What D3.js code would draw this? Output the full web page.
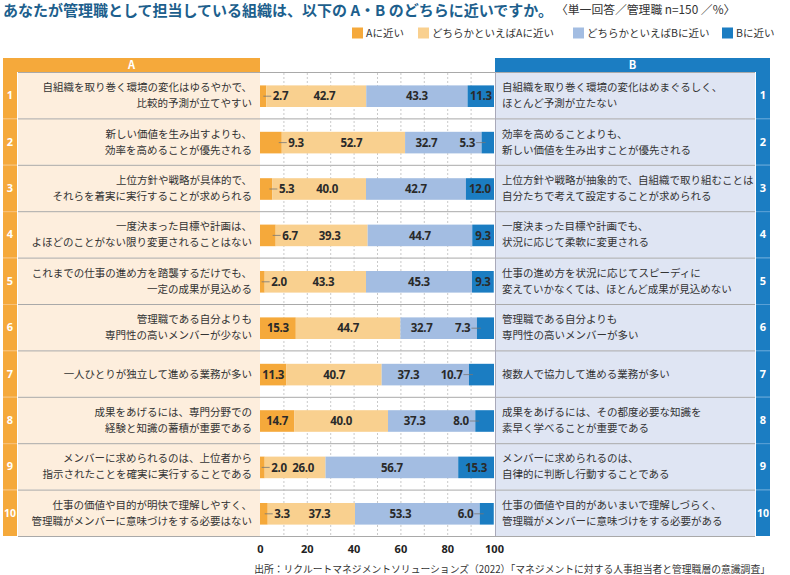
<!DOCTYPE html>
<html><head><meta charset="utf-8">
<script src="https://cdn.jsdelivr.net/npm/d3@7"></script>
<style>
html,body{margin:0;padding:0;background:#fff;}
svg{display:block;font-family:"Noto Sans CJK JP","Noto Sans",sans-serif;}
</style></head><body>
<svg id="chart" width="790" height="575"></svg>
<script>
const titleText = "あなたが管理職として担当している組織は、以下の A・B のどちらに近いですか。";
const subtitleText = "〈単一回答／管理職 n=150 ／%〉";
const sourceText = "出所：リクルートマネジメントソリューションズ（2022）「マネジメントに対する人事担当者と管理職層の意識調査」";
const categories = ["1","2","3","4","5","6","7","8","9","10"];
const textA = [
  ["自組織を取り巻く環境の変化はゆるやかで、","比較的予測が立てやすい"],
  ["新しい価値を生み出すよりも、","効率を高めることが優先される"],
  ["上位方針や戦略が具体的で、","それらを着実に実行することが求められる"],
  ["一度決まった目標や計画は、","よほどのことがない限り変更されることはない"],
  ["これまでの仕事の進め方を踏襲するだけでも、","一定の成果が見込める"],
  ["管理職である自分よりも","専門性の高いメンバーが少ない"],
  ["一人ひとりが独立して進める業務が多い"],
  ["成果をあげるには、専門分野での","経験と知識の蓄積が重要である"],
  ["メンバーに求められるのは、上位者から","指示されたことを確実に実行することである"],
  ["仕事の価値や目的が明快で理解しやすく、","管理職がメンバーに意味づけをする必要はない"]
];
const textB = [
  ["自組織を取り巻く環境の変化はめまぐるしく、","ほとんど予測が立たない"],
  ["効率を高めることよりも、","新しい価値を生み出すことが優先される"],
  ["上位方針や戦略が抽象的で、自組織で取り組むことは","自分たちで考えて設定することが求められる"],
  ["一度決まった目標や計画でも、","状況に応じて柔軟に変更される"],
  ["仕事の進め方を状況に応じてスピーディに","変えていかなくては、ほとんど成果が見込めない"],
  ["管理職である自分よりも","専門性の高いメンバーが多い"],
  ["複数人で協力して進める業務が多い"],
  ["成果をあげるには、その都度必要な知識を","素早く学べることが重要である"],
  ["メンバーに求められるのは、","自律的に判断し行動することである"],
  ["仕事の価値や目的があいまいで理解しづらく、","管理職がメンバーに意味づけをする必要がある"]
];
const seriesNames = ["Aに近い","どちらかといえばAに近い","どちらかといえばBに近い","Bに近い"];
const aNear     = [2.7, 9.3, 5.3, 6.7, 2.0, 15.3, 11.3, 14.7, 2.0, 3.3];
const aSomewhat = [42.7, 52.7, 40.0, 39.3, 43.3, 44.7, 40.7, 40.0, 26.0, 37.3];
const bSomewhat = [43.3, 32.7, 42.7, 44.7, 45.3, 32.7, 37.3, 37.3, 56.7, 53.3];
const bNear     = [11.3, 5.3, 12.0, 9.3, 9.3, 7.3, 10.7, 8.0, 15.3, 6.0];
const aLabelOutside = [true, true, true, true, true, false, false, false, true, true];
const bLabelOutside = [false, true, false, false, false, true, true, true, false, true];
const tickValues = [0, 20, 40, 60, 80, 100];
const gridValues = [10, 20, 30, 40, 50, 60, 70, 80, 90];

const colors = ["#f5a93b", "#f9d08f", "#a3bde2", "#1b7dc2"];
const keys = ["aNear","aSomewhat","bSomewhat","bNear"];
const table = categories.map((c, i) => ({cat: c, aNear: aNear[i], aSomewhat: aSomewhat[i], bSomewhat: bSomewhat[i], bNear: bNear[i], i}));

const svg = d3.select("#chart");
const x = d3.scaleLinear().domain([0, 100]).range([260, 494]);
const y = d3.scaleBand().domain(categories).range([72, 536]).padding(0);
const barH = 21.6;
const barOff = (y.bandwidth() - barH) / 2 + 1;
const valFont = '"Noto Sans","Noto Sans CJK JP",sans-serif';

// Title
svg.append("text").attr("x", 3).attr("y", 15.5).attr("font-size", 15).attr("font-weight", 700)
  .attr("fill", "#1d5f8d").text(titleText);
svg.append("text").attr("x", 556).attr("y", 14).attr("font-size", 11.8).attr("fill", "#333").text(subtitleText);

// Legend
const legX = [352, 418, 573, 722];
seriesNames.forEach((n, i) => {
  svg.append("rect").attr("x", legX[i]).attr("y", 27.5).attr("width", 11).attr("height", 11).attr("fill", colors[i]);
  svg.append("text").attr("x", legX[i] + 14).attr("y", 37).attr("font-size", 10.5).attr("fill", "#333").text(n);
});

// Headers
svg.append("rect").attr("x", 3).attr("y", 58).attr("width", 257).attr("height", 14).attr("fill", "#f5a93b");
svg.append("text").attr("x", 131.5).attr("y", 69).attr("text-anchor", "middle").attr("font-size", 11).attr("font-weight", 700).attr("fill", "#fff").text("A");
svg.append("rect").attr("x", 495).attr("y", 58).attr("width", 275).attr("height", 14).attr("fill", "#1b7dc2");
svg.append("text").attr("x", 632.5).attr("y", 69).attr("text-anchor", "middle").attr("font-size", 11).attr("font-weight", 700).attr("fill", "#fff").text("B");

// Panels
const rows = svg.append("g");
categories.forEach((c, i) => {
  const y0 = y(c), h = y.bandwidth(), cy = y0 + h / 2;
  rows.append("rect").attr("x", 3).attr("y", y0).attr("width", 14).attr("height", h).attr("fill", "#f5a93b");
  rows.append("rect").attr("x", 18).attr("y", y0).attr("width", 242).attr("height", h).attr("fill", "#fdeedd");
  rows.append("rect").attr("x", 495).attr("y", y0).attr("width", 260).attr("height", h).attr("fill", "#dfe5f3");
  rows.append("rect").attr("x", 756).attr("y", y0).attr("width", 14).attr("height", h).attr("fill", "#1b7dc2");
  rows.append("text").attr("x", 10).attr("y", cy + 4).attr("text-anchor", "middle").attr("font-size", c.length > 1 ? 10.5 : 11)
    .attr("font-weight", 700).attr("fill", "#fff").attr("font-family", valFont).text(c);
  rows.append("text").attr("x", 763).attr("y", cy + 4).attr("text-anchor", "middle").attr("font-size", c.length > 1 ? 10.5 : 11)
    .attr("font-weight", 700).attr("fill", "#fff").attr("font-family", valFont).text(c);
  const la = textA[i], lb = textB[i];
  la.forEach((t, k) => {
    rows.append("text").attr("x", 252).attr("y", cy + 4 + (k - (la.length - 1) / 2) * 16)
      .attr("text-anchor", "end").attr("font-size", 10.5).attr("fill", "#333").text(t);
  });
  lb.forEach((t, k) => {
    rows.append("text").attr("x", 502).attr("y", cy + 4 + (k - (lb.length - 1) / 2) * 16)
      .attr("font-size", 10.5).attr("fill", "#333").text(t);
  });
});

// separators
const seps = y.domain().map(c => y(c)).concat([536]);
seps.forEach((sy, k) => {
  svg.append("line").attr("x1", 18).attr("x2", 755).attr("y1", sy + 0.5).attr("y2", sy + 0.5).attr("stroke", "#a9a9a9").attr("stroke-width", 1);
  if (k > 0 && k < seps.length - 1) {
    svg.append("line").attr("x1", 3).attr("x2", 17).attr("y1", sy + 0.5).attr("y2", sy + 0.5).attr("stroke", "#f8c27a").attr("stroke-width", 1);
    svg.append("line").attr("x1", 756).attr("x2", 770).attr("y1", sy + 0.5).attr("y2", sy + 0.5).attr("stroke", "#5aa0d6").attr("stroke-width", 1);
  }
});
svg.append("line").attr("x1", 495.5).attr("x2", 495.5).attr("y1", 72).attr("y2", 536).attr("stroke", "#a9a9b9");

// grid
svg.append("g").selectAll("line").data(gridValues).join("line")
  .attr("x1", d => x(d) + 0.5).attr("x2", d => x(d) + 0.5).attr("y1", 73).attr("y2", 536)
  .attr("stroke", "#bbb").attr("stroke-dasharray", "2,2").attr("stroke-width", 0.8);

// bars
const stack = d3.stack().keys(keys)(table);
svg.append("g").selectAll("g").data(stack).join("g").attr("fill", (d, i) => colors[i])
  .selectAll("rect").data(d => d).join("rect")
  .attr("x", d => x(d[0])).attr("width", d => x(d[1]) - x(d[0]))
  .attr("y", d => y(d.data.cat) + barOff).attr("height", barH);

// labels
const lab = svg.append("g").attr("font-family", valFont).attr("font-weight", 700).attr("font-size", 11.5).attr("fill", "#2a2a2a").attr("letter-spacing", -0.3);
table.forEach((d, i) => {
  const cy = y(d.cat) + barOff + barH / 2;
  const s = keys.map((k, j) => stack[j][i]);
  const fmt = v => v.toFixed(1);
  if (aLabelOutside[i]) {
    const e = x(s[0][1]);
    lab.append("line").attr("x1", e - 3).attr("x2", e + 5).attr("y1", cy).attr("y2", cy).attr("stroke", "#777").attr("stroke-width", 0.8);
    lab.append("text").attr("x", e + 6.5).attr("y", cy + 4.2).text(fmt(d.aNear));
  } else {
    lab.append("text").attr("x", (x(s[0][0]) + x(s[0][1])) / 2).attr("y", cy + 4.2).attr("text-anchor", "middle").text(fmt(d.aNear));
  }
  const shiftA = aLabelOutside[i] ? 8 : 0;
  lab.append("text").attr("x", (x(s[1][0]) + x(s[1][1])) / 2 + shiftA).attr("y", cy + 4.2).attr("text-anchor", "middle").text(fmt(d.aSomewhat));
  const shiftB = bLabelOutside[i] ? -17 : 0;
  lab.append("text").attr("x", (x(s[2][0]) + x(s[2][1])) / 2 + shiftB).attr("y", cy + 4.2).attr("text-anchor", "middle").text(fmt(d.bSomewhat));
  if (bLabelOutside[i]) {
    const st = x(s[3][0]);
    lab.append("line").attr("x1", st - 5.5).attr("x2", st + 4).attr("y1", cy).attr("y2", cy).attr("stroke", "#777").attr("stroke-width", 0.8);
    lab.append("text").attr("x", st - 6.5).attr("y", cy + 4.2).attr("text-anchor", "end").text(fmt(d.bNear));
  } else {
    lab.append("text").attr("x", (x(s[3][0]) + x(s[3][1])) / 2).attr("y", cy + 4.2).attr("text-anchor", "middle").text(fmt(d.bNear));
  }
});

// axis
const axis = svg.append("g").attr("transform", "translate(0,536)")
  .call(d3.axisBottom(x).tickValues(tickValues).tickSize(0).tickPadding(9));
axis.select(".domain").remove();
axis.selectAll("text").attr("font-size", 11).attr("font-weight", 700).attr("fill", "#222").attr("font-family", valFont);

// source
svg.append("text").attr("x", 770).attr("y", 572.5).attr("text-anchor", "end").attr("font-size", 9.8).attr("fill", "#333").text(sourceText);
</script>
</body></html>
